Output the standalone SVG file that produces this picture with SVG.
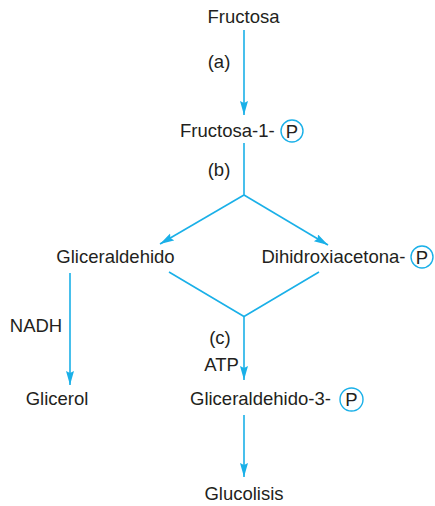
<svg xmlns="http://www.w3.org/2000/svg" width="435" height="506" viewBox="0 0 435 506">
  <style>
    text { font-family: "Liberation Sans", Arial, sans-serif; font-size: 18.5px; fill: #231f20; }
    .mid { text-anchor: middle; }
    .conn { stroke: #1ab0e8; stroke-width: 1.6; fill: none; }
    .pc { stroke: #1ab0e8; stroke-width: 1.4; fill: #ffffff; }
  </style>
  <defs>
    <marker id="arrow" markerUnits="userSpaceOnUse" markerWidth="16" markerHeight="10" refX="14" refY="4" orient="auto">
      <path d="M0,0 L14,4 L0,8 L2,4 z" fill="#1ab0e8"/>
    </marker>
  </defs>
  <rect width="435" height="506" fill="#ffffff"/>

  <!-- connectors -->
  <g id="connectors">
    <line class="conn" x1="244" y1="30" x2="244" y2="115" marker-end="url(#arrow)"/>
    <polyline class="conn" points="244,143 244,195"/>
    <line class="conn" x1="244" y1="195" x2="160" y2="244" marker-end="url(#arrow)"/>
    <line class="conn" x1="244" y1="195" x2="328" y2="245" marker-end="url(#arrow)"/>
    <polyline class="conn" points="169,272 244,316.5 319,272"/>
    <line class="conn" x1="244" y1="316.5" x2="244" y2="380" marker-end="url(#arrow)"/>
    <line class="conn" x1="70" y1="273" x2="70" y2="385" marker-end="url(#arrow)"/>
    <line class="conn" x1="244" y1="415" x2="244" y2="477" marker-end="url(#arrow)"/>
  </g>

  <!-- step labels -->
  <g id="labels">
    <text x="219" y="68" class="mid">(a)</text>
    <text x="219" y="176" class="mid">(b)</text>
    <text x="220" y="344" class="mid">(c)</text>
    <text x="221.5" y="371" class="mid">ATP</text>
    <text x="36" y="332" class="mid">NADH</text>
  </g>

  <g id="fructosa">
    <text x="243.5" y="22.5" class="mid">Fructosa</text>
  </g>

  <g id="fructosa-1-p">
    <text x="180" y="137">Fructosa-1-</text>
    <circle class="pc" cx="292" cy="131" r="11"/>
    <text x="292" y="137.5" class="mid">P</text>
  </g>

  <g id="gliceraldehido">
    <text x="115.5" y="263" class="mid">Gliceraldehido</text>
  </g>

  <g id="dihidroxiacetona-p">
    <text x="261.5" y="263">Dihidroxiacetona-</text>
    <circle class="pc" cx="422" cy="257" r="11"/>
    <text x="422" y="263.5" class="mid">P</text>
  </g>

  <g id="glicerol">
    <text x="57" y="405" class="mid">Glicerol</text>
  </g>

  <g id="gliceraldehido-3-p">
    <text x="190" y="405">Gliceraldehido-3-</text>
    <circle class="pc" cx="351.5" cy="399.5" r="11.5"/>
    <text x="351.5" y="406" class="mid">P</text>
  </g>

  <g id="glucolisis">
    <text x="244" y="500" class="mid">Glucolisis</text>
  </g>
</svg>
